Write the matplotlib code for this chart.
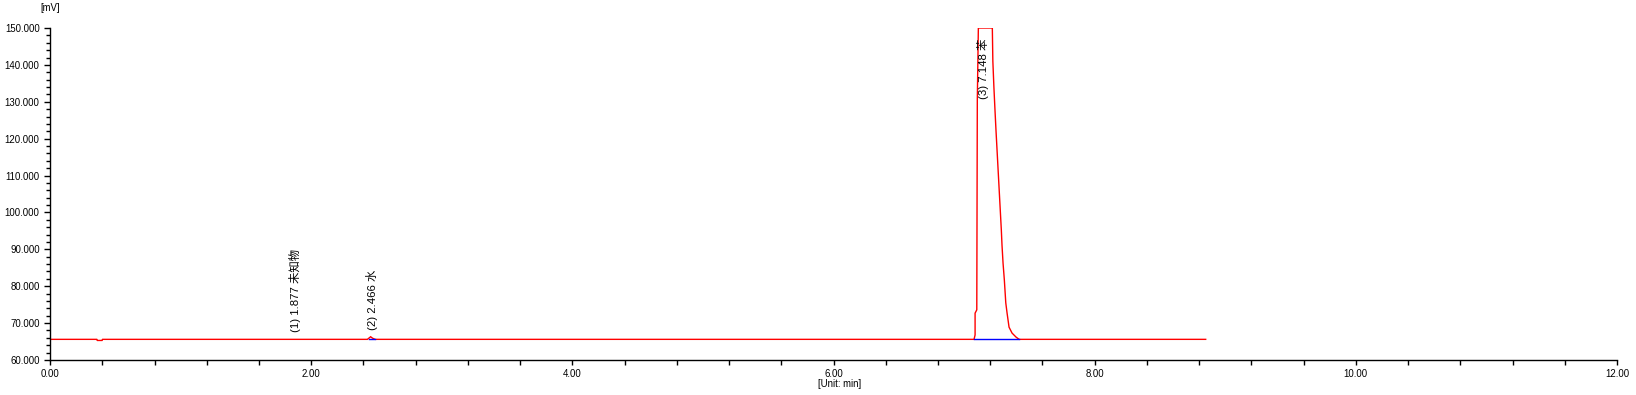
import matplotlib.pyplot as plt
from matplotlib.ticker import MultipleLocator, FormatStrFormatter

# chromatogram trace (time in min, signal in mV)
trace_time = [0.00, 0.36, 0.36, 0.40, 0.40, 2.43, 2.455, 2.47, 2.49, 7.076, 7.084, 7.084,
              7.097, 7.101, 7.109, 7.216, 7.220, 7.228, 7.236, 7.244, 7.285,
              7.290, 7.298, 7.308, 7.319, 7.329, 7.344, 7.367, 7.398, 7.421, 8.85]
trace_mv = [65.6, 65.6, 65.3, 65.3, 65.6, 65.6, 66.3, 65.9, 65.6, 65.6, 66.8, 72.7,
            73.6, 130.5, 150.0, 150.0, 141.0, 134.0, 128.0, 122.3, 95.2,
            91.2, 86.3, 81.7, 75.5, 72.7, 68.9, 67.3, 66.2, 65.6, 65.6]

# integration baselines (blue)
base_start = [2.44, 7.076]
base_end = [2.49, 7.421]
base_level = [65.6, 65.6]

# peak labels
peak_rt = [1.877, 2.466, 7.148]
peak_names = ['(1) 1.877 未知物', '(2) 2.466 水', '(3) 7.148 苯']
label_y = [67.6, 68.0, 130.8]

label_fonts = ['Liberation Sans', 'Noto Sans CJK SC', 'DejaVu Sans']

fig = plt.figure(figsize=(16.36, 3.95), dpi=100)
ax = fig.add_axes([0.0306, 0.0886, 0.9578, 0.8405])

ax.plot(trace_time, trace_mv, color='#ff0000', lw=1.0, solid_joinstyle='miter')
for s, e, b in zip(base_start, base_end, base_level):
    ax.plot([s, e], [b, b], color='#0000ff', lw=1.0)

for rt, name, y in zip(peak_rt, peak_names, label_y):
    ax.text(rt, y, name, rotation=90, ha='center', va='bottom',
            fontsize=8.2, family=label_fonts, color='black')

ax.set_xlim(0, 12)
ax.set_ylim(60, 150)

ax.xaxis.set_major_locator(MultipleLocator(2))
ax.xaxis.set_minor_locator(MultipleLocator(0.4))
ax.yaxis.set_major_locator(MultipleLocator(10))
ax.yaxis.set_minor_locator(MultipleLocator(2))
ax.xaxis.set_major_formatter(FormatStrFormatter('%.2f'))
ax.yaxis.set_major_formatter(FormatStrFormatter('%.3f'))

for side in ['top', 'right']:
    ax.spines[side].set_visible(False)
for side in ['left', 'bottom']:
    ax.spines[side].set_linewidth(1.0)

ax.tick_params(axis='x', which='both', direction='out', length=3.5, width=1.0,
               labelsize=6.9, pad=3)
ax.tick_params(axis='y', which='major', direction='out', length=4.5, width=1.0,
               labelsize=6.9, pad=3)
ax.tick_params(axis='y', which='minor', direction='out', length=3, width=1.0)
for lab in ax.get_xticklabels() + ax.get_yticklabels():
    lab.set_family(label_fonts)

fig.text(50 / 1636, 1 - 8 / 395, '[mV]', ha='center', va='center',
         fontsize=6.9, family=label_fonts)
fig.text(840 / 1636, 1 - 384 / 395, '[Unit: min]', ha='center', va='center',
         fontsize=6.9, family=label_fonts)

fig.savefig('out.png', dpi=100)
